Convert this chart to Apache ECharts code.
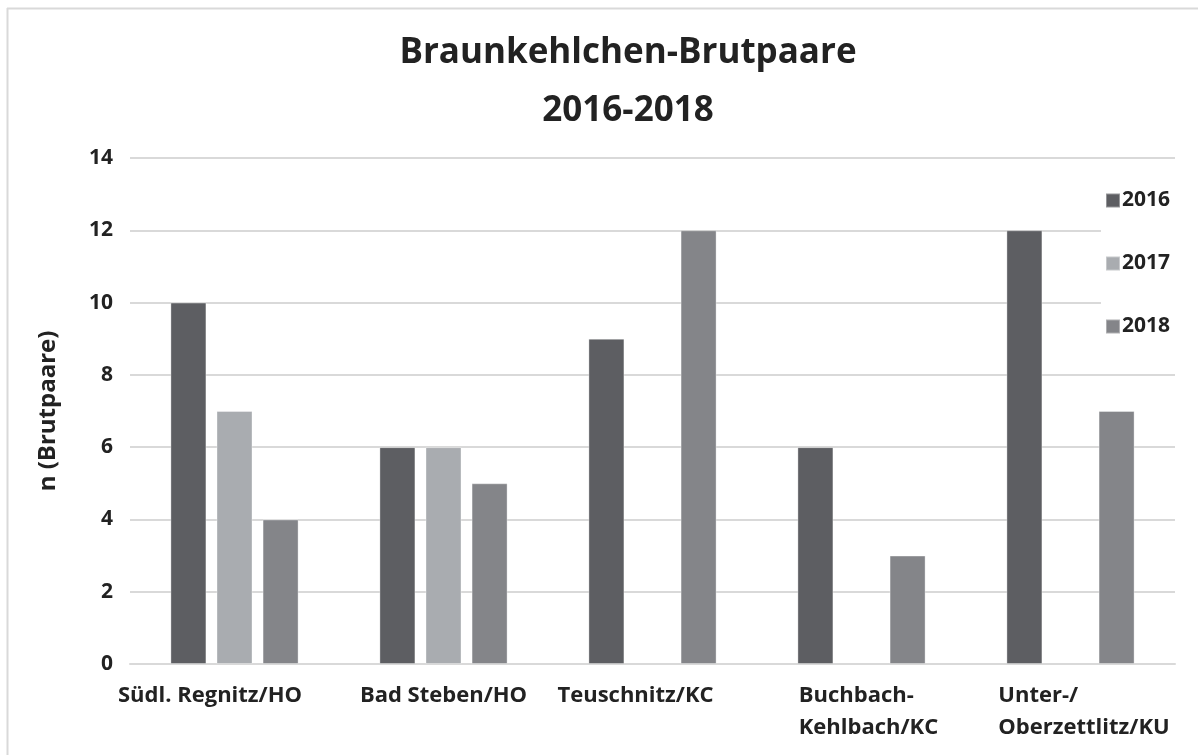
<!DOCTYPE html>
<html>
<head>
<meta charset="utf-8">
<script src="https://cdn.jsdelivr.net/npm/echarts@6/dist/echarts.min.js"></script>
<style>
  html, body { margin: 0; padding: 0; background: #fff; }
  #chart { width: 1198px; height: 755px; }
</style>
</head>
<body>
<div id="chart"></div>
<script>
// Standorte
var categories = ["Südl. Regnitz/HO", "Bad Steben/HO", "Teuschnitz/KC", "Buchbach-\nKehlbach/KC", "Unter-/\nOberzettlitz/KU"];
// Brutpaare pro Jahr ('-' = kein Wert)
var years = ["2016", "2017", "2018"];
var v2016 = [10, 6, 9, 6, 12];
var v2017 = [7, 6, "-", "-", "-"];
var v2018 = [4, 5, 12, 3, 7];
var yTicks = [0, 14, 2];

var font = "'Open Sans', sans-serif";
var colors = ["#5d5e62", "#a9acb0", "#848589"];

var myChart = echarts.init(document.getElementById("chart"));

function bar(name, data, i) {
  return {
    name: name,
    type: "bar",
    data: data,
    barWidth: 36,
    barGap: "28%",
    itemStyle: { color: colors[i], borderColor: "rgba(255,255,255,0.35)", borderWidth: 1 }
  };
}

var labelStyle = { fontFamily: font, fontWeight: "bold", fontSize: 22, lineHeight: 32, color: "#222" };

var opt = {
  animation: false,
  backgroundColor: "#fff",
  title: {
    text: "Braunkehlchen-Brutpaare\n2016-2018",
    left: 623,
    textAlign: "center",
    top: 19,
    textStyle: {
      fontFamily: font,
      fontWeight: "bold",
      fontSize: 35,
      lineHeight: 58,
      color: "#222"
    }
  },
  graphic: [
    { type: "line", shape: { x1: 7, y1: 8.5, x2: 1198, y2: 8.5 }, style: { stroke: "#d9d9d9", lineWidth: 2 } },
    { type: "line", shape: { x1: 7.5, y1: 8, x2: 7.5, y2: 755 }, style: { stroke: "#d9d9d9", lineWidth: 2 } }
  ],
  legend: {
    data: years,
    orient: "vertical",
    right: 20,
    top: 180,
    itemWidth: 14,
    itemHeight: 14,
    itemGap: 42,
    icon: "rect",
    backgroundColor: "#fff",
    padding: [10, 8, 10, 4],
    textStyle: { fontFamily: font, fontWeight: "bold", fontSize: 21, color: "#222", padding: [0, 0, 0, -3] }
  },
  grid: { left: 130, right: 23, top: 158, bottom: 91 },
  xAxis: {
    type: "category",
    data: [
      { value: categories[0], textStyle: { padding: [0, 49, 0, 0] } },
      categories[1],
      { value: categories[2], textStyle: { padding: [0, 34, 0, 0] } },
      { value: categories[3], textStyle: { padding: [0, 0, 0, 14] } },
      { value: categories[4], textStyle: { padding: [0, 0, 0, 27] } }
    ],
    axisLine: { lineStyle: { color: "#d9d9d9", width: 2 } },
    axisTick: { show: false },
    axisLabel: {
      interval: 0,
      margin: 16,
      fontFamily: font,
      fontWeight: "bold",
      fontSize: 22,
      lineHeight: 32,
      color: "#222",
      formatter: function (v) {
        if (v.indexOf("\n") < 0) return v;
        return v.split("\n").map(function (s) { return "{l|" + s + "}"; }).join("\n");
      },
      rich: {
        l: Object.assign({ align: "left" }, labelStyle)
      }
    }
  },
  yAxis: {
    type: "value",
    min: yTicks[0],
    max: yTicks[1],
    interval: yTicks[2],
    name: "n (Brutpaare)",
    nameLocation: "middle",
    nameGap: 70,
    nameRotate: 90,
    nameTextStyle: { fontFamily: font, fontWeight: "bold", fontSize: 24, color: "#222" },
    axisLine: { show: false },
    axisTick: { show: false },
    splitLine: { lineStyle: { color: "#d9d9d9", width: 2 } },
    axisLabel: { margin: 17, fontFamily: font, fontWeight: "bold", fontSize: 21, color: "#222" }
  },
  series: [
    bar(years[0], v2016, 0),
    bar(years[1], v2017, 1),
    bar(years[2], v2018, 2)
  ]
};

myChart.setOption(opt);
</script>
</body>
</html>
